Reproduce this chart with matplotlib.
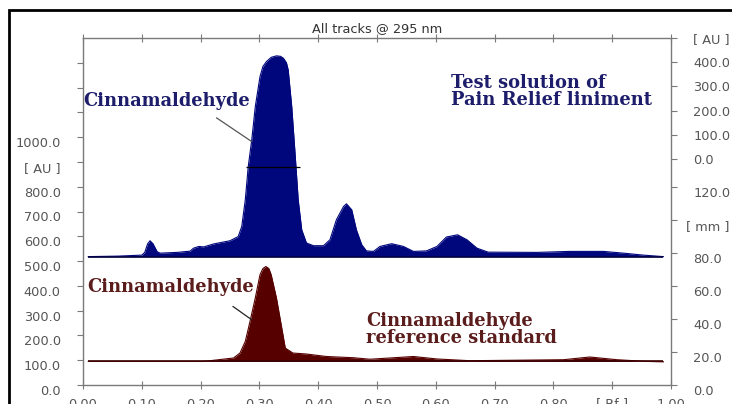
import matplotlib
matplotlib.use("Agg")
import matplotlib.pyplot as plt
from matplotlib.patches import Rectangle

# ---------------- data ----------------
# Test solution track (upper, blue) : Rf vs. signal [AU]
test_rf = [0.009, 0.060, 0.100, 0.105, 0.110, 0.114, 0.119, 0.126, 0.131, 0.160,
           0.182, 0.188, 0.197, 0.205, 0.222, 0.250, 0.264, 0.270, 0.276, 0.281,
           0.287, 0.293, 0.301, 0.306, 0.312, 0.320, 0.329, 0.336, 0.341, 0.346,
           0.349, 0.355, 0.361, 0.366, 0.372, 0.380, 0.392, 0.409, 0.420, 0.431,
           0.443, 0.448, 0.457, 0.465, 0.474, 0.482, 0.494, 0.505, 0.525, 0.545,
           0.562, 0.584, 0.602, 0.618, 0.637, 0.653, 0.670, 0.689, 0.772, 0.828,
           0.885, 0.919, 0.953, 0.987]
test_au = [518, 520, 524, 535, 570, 582, 570, 538, 532, 535,
           540, 552, 559, 557, 569, 582, 599, 640, 747, 881,
           989, 1123, 1244, 1285, 1305, 1322, 1328, 1326, 1318, 1300,
           1271, 1123, 922, 747, 626, 573, 562, 562, 586, 667,
           720, 731, 707, 626, 566, 541, 539, 559, 570, 559,
           539, 541, 559, 597, 606, 586, 552, 536, 535, 539,
           539, 532, 524, 518]
test_base = 518

# Reference standard track (lower, dark red)
ref_rf = [0.009, 0.205, 0.227, 0.256, 0.267, 0.276, 0.284, 0.293, 0.301, 0.306,
          0.311, 0.316, 0.320, 0.329, 0.338, 0.344, 0.357, 0.380, 0.414, 0.460,
          0.488, 0.522, 0.562, 0.602, 0.658, 0.817, 0.862, 0.908, 0.959, 0.987]
ref_au = [95, 95, 101, 109, 129, 176, 256, 351, 445, 470,
          478, 470, 445, 351, 230, 149, 129, 125, 115, 110,
          104, 109, 115, 105, 98, 102, 113, 102, 95, 94]
ref_base = 95

# peak-height marker seen across the main peak
marker_level = 880
marker_span = [0.278, 0.369]

# leader lines (start -> peak) of the two labels
test_leader = [(0.227, 1078), (0.287, 982)]
ref_leader = [(0.255, 317), (0.287, 263)]

x_ticks = [0.0, 0.1, 0.2, 0.3, 0.4, 0.5, 0.6, 0.7, 0.8, 0.9, 1.0]
x_labels = ["0.00", "0.10", "0.20", "0.30", "0.40", "0.50", "0.60", "0.70", "0.80", "[ Rf ]", "1.00"]
left_ticks = [0, 100, 200, 300, 400, 500, 600, 700, 800, 900, 1000, 1100, 1200, 1300]
left_labels = ["0.0", "100.0", "200.0", "300.0", "400.0", "500.0", "600.0", "700.0",
               "800.0", "[ AU ]", "1000.0", "", "", ""]
mm_ticks = [0, 20, 40, 60, 80, 100, 120]
mm_labels = ["0.0", "20.0", "40.0", "60.0", "80.0", "", "120.0"]
mm_unit = "[ mm ]"
mm_unit_pos = 100
au_r_ticks = [0, 100, 200, 300, 400, 500]
au_r_labels = ["0.0", "100.0", "200.0", "300.0", "400.0", "[ AU ]"]

# ---------------- styling ----------------
W, H = 732, 404
fig = plt.figure(figsize=(W / 100, H / 100), dpi=100)
fig.patch.set_facecolor("white")

L, R, T, B = 83, 671, 38, 385
ax = fig.add_axes([L / W, 1 - B / H, (R - L) / W, (B - T) / H])
ax.set_xlim(0, 1)
ax.set_ylim(0, 1400)

blue = "#00067c"
blue_txt = "#1d1d6b"
red = "#560000"
red_txt = "#5b1c1c"
grey = "#7a7a7a"
lab = "#555555"
fs = 9.3

ax.fill_between(test_rf, test_base, test_au, color=blue, lw=0)
ax.plot(test_rf, test_au, color=blue, lw=0.8)
ax.hlines(test_base, test_rf[0], test_rf[-1], color="#000040", lw=1.2)

ax.fill_between(ref_rf, ref_base, ref_au, color=red, lw=0)
ax.plot(ref_rf, ref_au, color=red, lw=0.8)
ax.hlines(ref_base, ref_rf[0], ref_rf[-1], color="#3a0000", lw=1.2)

ax.hlines(marker_level, marker_span[0], marker_span[1], color="black", lw=0.9)

for s in ["left", "right", "top", "bottom"]:
    ax.spines[s].set_color(grey)
    ax.spines[s].set_linewidth(1.0)

ax.set_xticks(x_ticks)
ax.set_xticklabels(x_labels)
ax.tick_params(axis="x", which="both", direction="inout", length=6, color=grey,
               labelsize=fs, labelcolor=lab, pad=6, top=True, labeltop=False)
ax.set_yticks(left_ticks)
ax.set_yticklabels(left_labels)
ax.tick_params(axis="y", direction="out", length=4, color=grey,
               labelsize=fs, labelcolor=lab, pad=12)
for t in ax.get_yticklabels():
    t.set_va("top")

# right scale in mm
ax2 = ax.twinx()
ax2.set_ylim(0, (B - T) / 1.65)
ax2.set_yticks(mm_ticks)
ax2.set_yticklabels(mm_labels)
ax2.tick_params(axis="y", direction="out", length=4, color=grey,
                labelsize=fs, labelcolor=lab, pad=12)
for t in ax2.get_yticklabels():
    t.set_va("top")
for s in ax2.spines.values():
    s.set_visible(False)
ax2.text(1.0 + (729 - R) / (R - L), mm_unit_pos, mm_unit,
         transform=ax2.get_yaxis_transform(),
         ha="right", va="top", fontsize=fs, color=lab)

# right scale in AU (upper track)
ax3 = ax.twinx()
ax3.set_ylim(-(B - 159) / 0.242, 500)
ax3.set_yticks(au_r_ticks)
ax3.set_yticklabels(au_r_labels)
ax3.tick_params(axis="y", direction="out", length=4, color=grey,
                labelsize=fs, labelcolor=lab, pad=12)
for s in ax3.spines.values():
    s.set_visible(False)

ax.set_title("All tracks @ 295 nm", fontsize=fs, color="#333333", pad=4)

serif = dict(family="DejaVu Serif", weight="bold", fontsize=12.9)
ax.text(0.0, 1146, "Cinnamaldehyde", color=blue_txt, va="center", ha="left", **serif)
ax.annotate("", xy=test_leader[1], xytext=test_leader[0],
            arrowprops=dict(arrowstyle="-", color="#555555", lw=0.9,
                            shrinkA=0, shrinkB=0))
ax.text(0.626, 1183, "Test solution of\nPain Relief liniment", color=blue_txt,
        va="center", ha="left", linespacing=0.95, **serif)

ax.text(0.007, 396, "Cinnamaldehyde", color=red_txt, va="center", ha="left", **serif)
ax.annotate("", xy=ref_leader[1], xytext=ref_leader[0],
            arrowprops=dict(arrowstyle="-", color="#222222", lw=0.9,
                            shrinkA=0, shrinkB=0))
ax.text(0.481, 223, "Cinnamaldehyde\nreference standard", color=red_txt,
        va="center", ha="left", linespacing=0.95, **serif)

# outer black frame of the screenshot
fig.add_artist(Rectangle((9 / W, -0.2), 1.2, 1.2 - 10 / H, fill=False,
                         edgecolor="black", lw=2, transform=fig.transFigure,
                         clip_on=False))

fig.savefig("out.png", dpi=100)
